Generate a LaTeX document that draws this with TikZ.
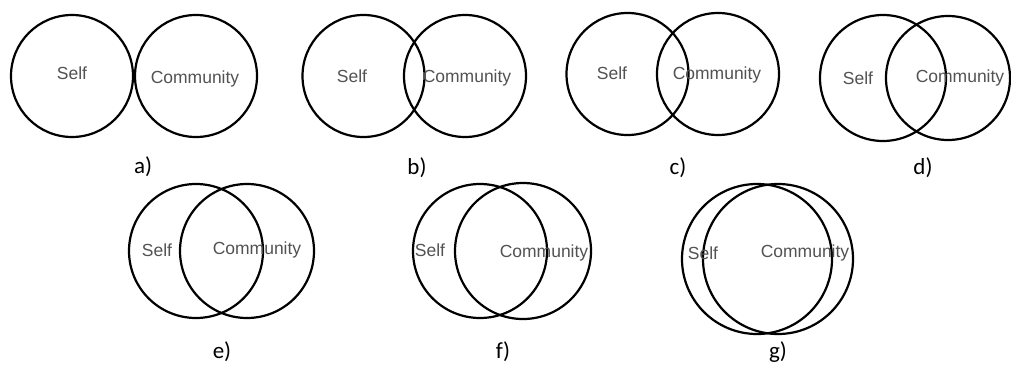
\documentclass[tikz,border=0pt]{standalone}
\usepackage{fontspec}
\newfontfamily\arialfont{Liberation Sans}
\newfontfamily\calibrifont{Carlito}
\tikzset{
  ring/.style={circle, draw, line width=2.2pt, inner sep=0pt},
  word/.style={font=\arialfont\fontsize{17.5}{19}\selectfont, text=black!68},
  tag/.style={font=\calibrifont\fontsize{23}{26}\selectfont}
}
\begin{document}
\begin{tikzpicture}[x=1pt,y=-1pt]
            \useasboundingbox (0,0) rectangle (1011,364);
            % a)
            \node [ring, minimum size=122pt] (selfA) at (72,76) {};
            \node [ring, minimum size=122pt] (commA) at (196,76) {};
            \node [word] (selfAtxt) at (72,73) {Self};
            \node [word] (commAtxt) at (195,79) {Community};
            \node [tag] (tagA) at (143,167) {a)};
            % b)
            \node [ring, minimum size=122pt] (selfB) at (363.5,76) {};
            \node [ring, minimum size=122pt] (commB) at (465,76) {};
            \node [word] (selfBtxt) at (352,76) {Self};
            \node [word] (commBtxt) at (467,78) {Community};
            \node [tag] (tagB) at (417,168) {b)};
            % c)
            \node [ring, minimum size=122pt] (selfC) at (627.5,74) {};
            \node [ring, minimum size=122pt] (commC) at (718,74) {};
            \node [word] (selfCtxt) at (612,73) {Self};
            \node [word] (commCtxt) at (717,75) {Community};
            \node [tag] (tagC) at (678,168) {c)};
            % d)
            \node [ring, minimum size=126pt] (selfD) at (883,78) {};
            \node [ring, minimum size=124pt] (commD) at (948,78) {};
            \node [word] (selfDtxt) at (858,78) {Self};
            \node [word] (commDtxt) at (960,78) {Community};
            \node [tag] (tagD) at (923,168) {d)};
            % e)
            \node [ring, minimum size=134pt] (selfE) at (196,251) {};
            \node [ring, minimum size=134pt] (commE) at (247,251) {};
            \node [word] (selfEtxt) at (157,250) {Self};
            \node [word] (commEtxt) at (257,250) {Community};
            \node [tag] (tagE) at (222,352) {e)};
            % f)
            \node [ring, minimum size=134pt] (selfF) at (480,251) {};
            \node [ring, minimum size=136pt] (commF) at (523,251) {};
            \node [word] (selfFtxt) at (430,250) {Self};
            \node [word] (commFtxt) at (544,253) {Community};
            \node [tag] (tagF) at (503,352) {f)};
            % g)
            \node [ring, minimum size=150pt] (selfG) at (757,259) {};
            \node [ring, minimum size=150pt] (commG) at (778,259) {};
            \node [word] (selfGtxt) at (703,253) {Self};
            \node [word] (commGtxt) at (805,253) {Community};
            \node [tag] (tagG) at (778,352) {g)};
        \end{tikzpicture}
\end{document}
